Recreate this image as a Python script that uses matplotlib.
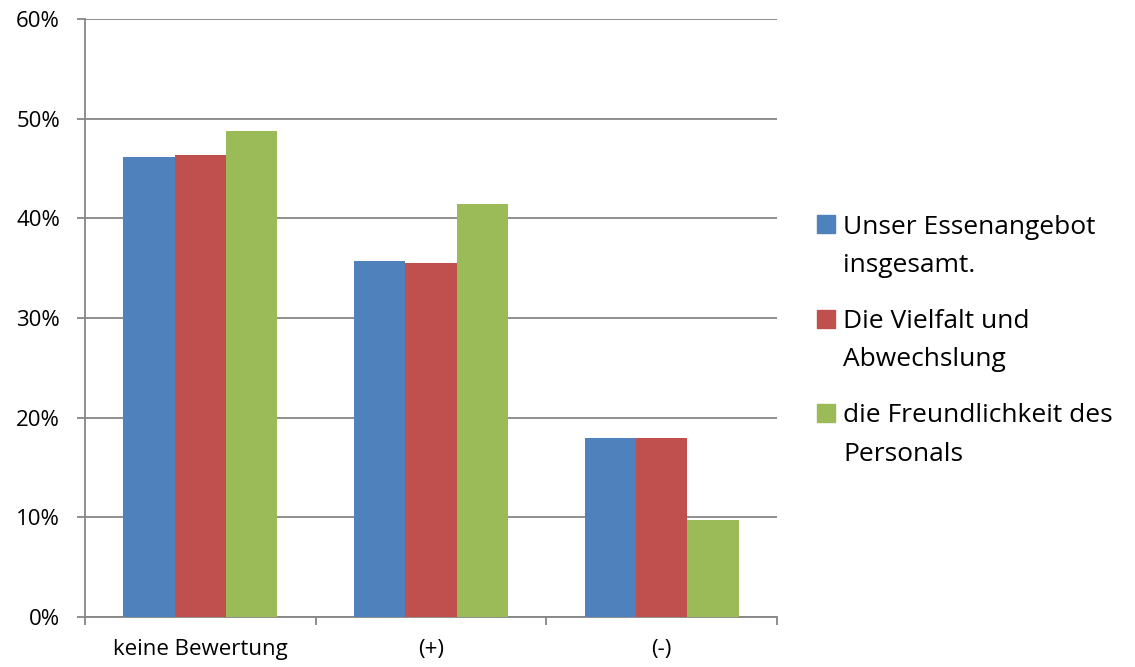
import matplotlib
matplotlib.use("Agg")
import matplotlib.pyplot as plt
from matplotlib.patches import Rectangle
import numpy as np

categories = ["keine Bewertung", "(+)", "(-)"]
series_names = ["Unser Essenangebot\ninsgesamt.",
                "Die Vielfalt und\nAbwechslung",
                "die Freundlichkeit des\nPersonals"]
essen = [46.2, 46.4, 48.8]
vielfalt = [35.7, 35.5, 41.4]
freundlich = [18.0, 18.0, 9.7]
values = [[essen[0], vielfalt[0], freundlich[0]],
          [essen[1], vielfalt[1], freundlich[1]],
          [essen[2], vielfalt[2], freundlich[2]]]
colors = ["#4F81BD", "#C0504D", "#9BBB59"]

plt.rcParams['font.family'] = ['Open Sans', 'DejaVu Sans']
grid_col = "#868686"
W, H = 1135, 667

fig = plt.figure(figsize=(W / 100, H / 100), dpi=100)
ax = fig.add_axes([85 / W, 1 - 617 / H, 692 / W, 598 / H])

x = np.arange(len(categories))
width = 0.223
for i, name in enumerate(series_names):
    ax.bar(x + (i - 1) * width, values[i], width, color=colors[i],
           label=name, zorder=3)

ax.set_xlim(-0.5, 2.5)
ax.set_ylim(0, 60)
ax.set_yticks(np.arange(0, 61, 10))
ax.set_yticklabels([f"{v}%" for v in range(0, 61, 10)])
ax.yaxis.grid(True, color=grid_col, linewidth=1.3, zorder=0)

ax.set_xticks(x)
ax.set_xticklabels(categories)
ax.set_xticks([-0.5, 0.5, 1.5, 2.5], minor=True)
ax.tick_params(axis="x", which="major", length=0, pad=16, labelsize=16)
ax.tick_params(axis="x", which="minor", length=6, width=1.3, color=grid_col, direction="out")
ax.tick_params(axis="y", length=6, width=1.3, color=grid_col, pad=12, labelsize=16)

for s in ["top", "right"]:
    ax.spines[s].set_visible(False)
for s in ["left", "bottom"]:
    ax.spines[s].set_color(grid_col)
    ax.spines[s].set_linewidth(1.3)

# legend drawn by hand so the square sits on the first text line
for i, name in enumerate(series_names):
    y0 = 224 + i * 94.5
    fig.patches.append(Rectangle((817 / W, 1 - (y0 + 9) / H), 18 / W, 18 / H,
                                 transform=fig.transFigure, color=colors[i]))
    for j, line in enumerate(name.split("\n")):
        fig.text(843 / W, 1 - (y0 + j * 38.5) / H, line, fontsize=19,
                 ha="left", va="center_baseline")

fig.savefig("out.png", dpi=100)
